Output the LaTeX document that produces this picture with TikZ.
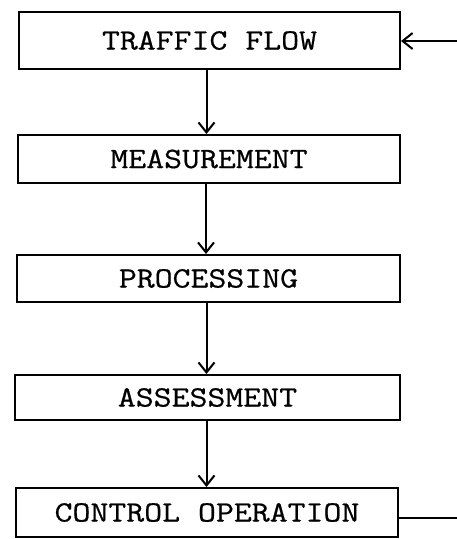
\documentclass[tikz,border=0pt]{standalone}
\usepackage{fontspec}
\setmonofont{Latin Modern Mono}[FakeStretch=1.18,FakeBold=0.6]
\usetikzlibrary{arrows.meta}
\tikzset{
  stage/.style={draw, line width=2pt, inner sep=0pt, font=\ttfamily\fontsize{29.5}{31}\selectfont, anchor=center},
  flow/.style={line width=2pt, -{Straight Barb[length=10pt,width=16pt,line width=2pt]}},
  link/.style={line width=2pt}
}
\begin{document}
\begin{tikzpicture}[x=1pt,y=-1pt]
\useasboundingbox (0,0) rectangle (456,539);
\node[stage, minimum width=381pt, minimum height=57pt] (tf) at (209.5,40.5) {TRAFFIC FLOW};
\node[stage, minimum width=382pt, minimum height=48pt] (ms) at (209,159) {MEASUREMENT};
\node[stage, minimum width=383pt, minimum height=47pt] (pr) at (208.5,278.5) {PROCESSING};
\node[stage, minimum width=385pt, minimum height=45pt] (as) at (207.5,397.5) {ASSESSMENT};
\node[stage, minimum width=382pt, minimum height=49pt] (co) at (207,512.5) {CONTROL OPERATION};
\draw[flow] ([xshift=-3pt]tf.south) -- ([xshift=-3pt]tf.south |- ms.north);
\draw[flow] ([xshift=-3pt]ms.south) -- ([xshift=-3pt]ms.south |- pr.north);
\draw[flow] ([xshift=-2pt]pr.south) -- ([xshift=-2pt]pr.south |- as.north);
\draw[flow] ([xshift=-1pt]as.south) -- ([xshift=-1pt]as.south |- co.north);
\coordinate (r2) at (460,41);
\draw[link] ([yshift=-5.5pt]co.east) -| (r2);
\draw[flow] (r2) -- (tf.east |- r2);
\end{tikzpicture}
\end{document}
